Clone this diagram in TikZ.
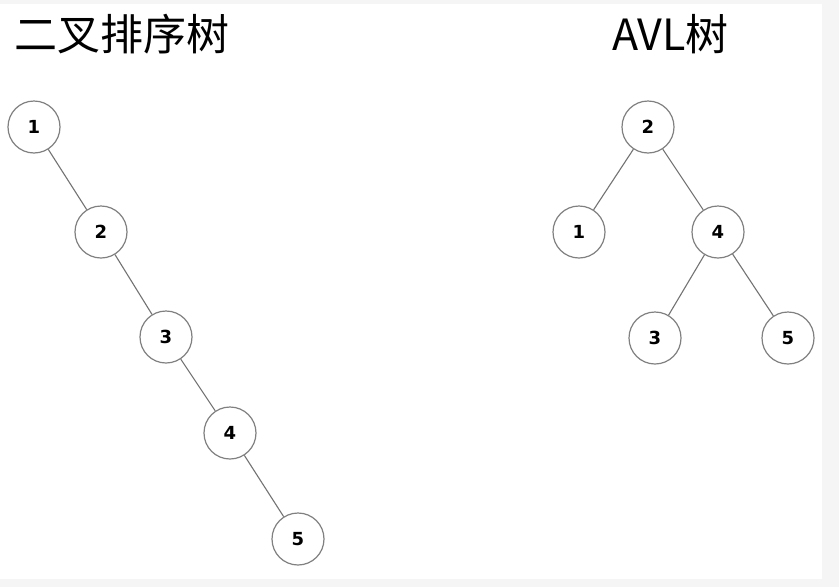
\documentclass[tikz,border=0pt]{standalone}
\usepackage{fontspec}
\setmainfont{DejaVu Sans}
\newfontfamily\cjk{Noto Sans CJK SC}
\newfontfamily\numfont{DejaVu Sans}
\begin{document}
\begin{tikzpicture}[x=1pt,y=-1pt,
  tn/.style={circle,draw=black!50,line width=1.2pt,fill=white,minimum size=52pt,inner sep=0pt,font=\numfont\bfseries\fontsize{18}{18}\selectfont},
  ed/.style={draw=black!55,line width=1.1pt},
  ttl/.style={anchor=base west,inner sep=0pt,font=\cjk\fontsize{43}{43}\selectfont}]
\fill[black!4] (0,0) rectangle (839,587);
\fill[white] (0,4) rectangle (822,579);
\useasboundingbox (0,0) rectangle (839,587);
\node[ttl] (t1) at (14,50) {二叉排序树};
\node[ttl] (t2) at (612,50) {AVL树};
% left tree
\node[tn] (a1) at (34,127) {1};
\node[tn] (a2) at (101,232) {2};
\node[tn] (a3) at (166,337) {3};
\node[tn] (a4) at (230,433) {4};
\node[tn] (a5) at (298,539) {5};
\draw[ed] (a1) -- (a2);
\draw[ed] (a2) -- (a3);
\draw[ed] (a3) -- (a4);
\draw[ed] (a4) -- (a5);
% AVL tree
\node[tn] (b2) at (648,127) {2};
\node[tn] (b1) at (579,232) {1};
\node[tn] (b4) at (718,232) {4};
\node[tn] (b3) at (655,338) {3};
\node[tn] (b5) at (788,338) {5};
\draw[ed] (b2) -- (b1);
\draw[ed] (b2) -- (b4);
\draw[ed] (b4) -- (b3);
\draw[ed] (b4) -- (b5);
\end{tikzpicture}
\end{document}
